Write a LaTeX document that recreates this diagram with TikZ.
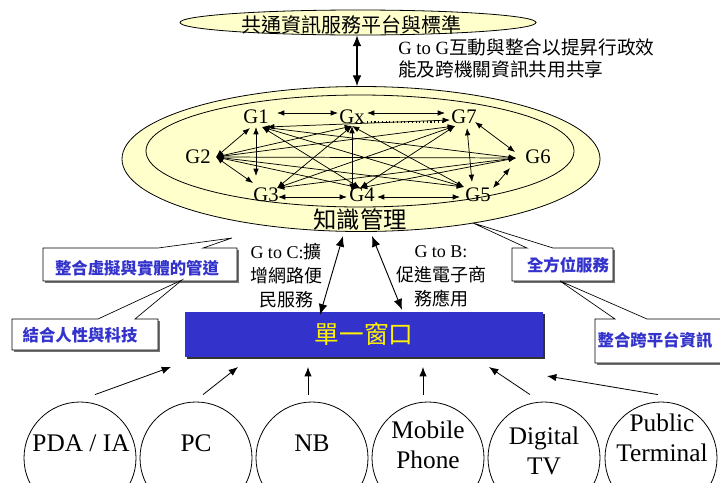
\documentclass[tikz,border=0pt]{standalone}
\usepackage{fontspec}
\setmainfont{Liberation Serif}
\newfontfamily\cjk{Noto Sans CJK TC}
\usetikzlibrary{arrows.meta,shapes.geometric}
\definecolor{ylw}{HTML}{FFFFCC}
\definecolor{bbox}{HTML}{3333CC}
\definecolor{btxt}{HTML}{3333CC}
\begin{document}
\begin{tikzpicture}[x=0.75pt,y=-0.75pt,
  garr/.style={{Latex[length=5.5pt,width=4.2pt]}-{Latex[length=5.5pt,width=4.2pt]}, line width=0.55pt},
  bigarr/.style={{Latex[length=8pt,width=6.5pt]}-{Latex[length=8pt,width=6.5pt]}, line width=0.8pt},
  devarr/.style={-{Latex[length=7pt,width=5.5pt]}, line width=0.6pt},
  glab/.style={font=\fontsize{15.5}{15.5}\selectfont, inner sep=0pt},
  ell/.style={ellipse, draw, fill=ylw, line width=0.6pt, inner sep=0pt},
  devc/.style={circle, draw, line width=0.6pt, minimum size=84pt, inner sep=0pt},
  devt/.style={align=center, inner sep=0pt, font=\fontsize{19}{22.5}\selectfont},
  callt/.style={inner sep=0pt, text=btxt, font={\cjk\bfseries\fontsize{12.3}{12.3}\selectfont}},
  callbox/.style={draw, fill=white, line width=0.5pt},
  shad/.style={fill=black!55},
  cjkt/.style={inner sep=0pt, align=center, font={\fontsize{13.5}{18}\selectfont}}
]
\useasboundingbox (0,0) rectangle (720,482);

% top ellipse
\node[ell, minimum width=267pt, minimum height=18.75pt] (top) at (358,22.5) {};
\node[inner sep=0pt, font={\cjk\fontsize{15}{15}\selectfont}] (toptxt) at (351,25) {共通資訊服務平台與標準};

% G to G text
\node[anchor=base west, inner sep=0pt, font=\fontsize{14}{14}\selectfont] (gg1) at (398,54) {G to G{\cjk 互動與整合以提昇行政效}};
\node[anchor=base west, inner sep=0pt, font={\cjk\fontsize{14}{14}\selectfont}] (gg2) at (398,76) {能及跨機關資訊共用共享};

% big ellipses
\node[ell, minimum width=358.5pt, minimum height=108.75pt] (outer) at (361,159) {};
\node[ell, minimum width=321pt, minimum height=84pt] (mid) at (360,151) {};
\node[inner sep=0pt, font={\cjk\fontsize{17.5}{17.5}\selectfont}] (km) at (360,220) {知識管理};

\draw[bigarr] (top.south -| 357,0) -- (outer.north -| 357,0);

% G nodes
\node[glab] (G1) at (256,117) {G1};
\node[glab] (Gx) at (352,117) {Gx};
\node[glab] (G7) at (464,117) {G7};
\node[glab] (G2) at (198,157) {G2};
\node[glab] (G6) at (538,157) {G6};
\node[glab] (G3) at (266,195) {G3};
\node[glab] (G4) at (362,195) {G4};
\node[glab] (G5) at (478,195) {G5};

\coordinate (h1) at ([shift={(6,10)}]G1.center);
\coordinate (hx) at ([shift={(0,9)}]Gx.center);
\coordinate (h7) at ([shift={(-9,9)}]G7.center);
\coordinate (h2) at ([shift={(18,0)}]G2.center);
\coordinate (h6) at ([shift={(-22,1)}]G6.center);
\coordinate (h3) at ([shift={(11,-7)}]G3.center);
\coordinate (h4) at ([shift={(-2,-7)}]G4.center);
\coordinate (h5) at ([shift={(-14,-8)}]G5.center);

\foreach \a/\b in {h2/hx,h2/h7,h2/h6,h2/h5,h2/h4,h1/h4,h1/h5,h1/h6,hx/h3,hx/h5,h7/h3,h7/h4,h6/h3,h6/h4}
  \draw[garr] (\a) -- (\b);

\draw[garr] ([shift={(21,-4)}]G1.center) -- ([shift={(-14,-4)}]Gx.center);
\draw[garr] ([shift={(15,-4)}]Gx.center) -- ([shift={(-19,-4)}]G7.center);
\draw[dotted, line width=0.8pt] ([shift={(15,5)}]Gx.center) -- ([shift={(-19,5)}]G7.center);
\draw[garr] ([shift={(11,10)}]G1.center) -- ([shift={(-14,3)}]G7.center);
\draw[garr] ([shift={(0,10)}]G1.center) -- ([shift={(-10,-19)}]G3.center);
\draw[garr] ([shift={(-6,11)}]G1.center) -- (h2);
\draw[garr] (h2) -- ([shift={(-13,-12)}]G3.center);
\draw[garr] (hx) -- ([shift={(-10,-4)}]G4.center);
\draw[garr] ([shift={(11,5)}]G7.center) -- ([shift={(-23,-5)}]G6.center);
\draw[garr] ([shift={(3,11)}]G7.center) -- ([shift={(-6,-13)}]G5.center);
\draw[garr] ([shift={(-28,11)}]G6.center) -- ([shift={(15,-7)}]G5.center);
\draw[garr] ([shift={(12,2)}]G3.center) -- ([shift={(-15,2)}]G4.center);
\draw[garr] ([shift={(15,2)}]G4.center) -- ([shift={(-18,2)}]G5.center);

% window box
\fill[black!80] (187,314) rectangle (545,359);
\node[fill=bbox, minimum width=268.5pt, minimum height=33.75pt, inner sep=0pt, text=yellow, font={\cjk\fontsize{18.5}{18.5}\selectfont}] (win) at (364,334.5) {單一窗口};

% G to C / G to B
\node[cjkt] (gtc) at (286,276) {G to C:{\cjk 擴}\\{\cjk 增網路便}\\{\cjk 民服務}};
\node[cjkt] (gtb) at (441,276) {G to B:\\{\cjk 促進電子商}\\{\cjk 務應用}};
\coordinate (gcs) at (343,236);
\coordinate (gbs) at (372,236);
\draw[bigarr, line width=0.7pt] (gcs) -- ([shift={(-44,3)}]win.north);
\draw[bigarr, line width=0.7pt] (gbs) -- ([shift={(38,-2)}]win.north);

% callouts
\fill[shad] (45,250) rectangle (239,283);
\draw[callbox] (43,248) -- (158,248) -- (232,238) -- (203,248) -- (237,248) -- (237,281) -- (43,281) -- cycle;
\node[callt] (c1t) at (137,268) {整合虛擬與實體的管道};

\fill[shad] (14,321) rectangle (160,352);
\draw[callbox] (12,319) -- (98,319) -- (182,280) -- (135,319) -- (158,319) -- (158,350) -- (12,350) -- cycle;
\node[callt] (c2t) at (80,335) {結合人性與科技};

\fill[shad] (514,250) rectangle (615,283);
\draw[callbox] (512,248) -- (527,248) -- (473,223) -- (553,248) -- (613,248) -- (613,281) -- (512,281) -- cycle;
\node[callt] (c3t) at (568,265) {全方位服務};

\fill[shad] (597,321) rectangle (730,365);
\draw[callbox] (595,319) -- (615,319) -- (560,281) -- (647,319) -- (728,319) -- (728,363) -- (595,363) -- cycle;
\node[callt] (c4t) at (655,340) {整合跨平台資訊};

% devices
\node[devc] (d1) at (80,458) {};
\node[devc] (d2) at (196,458) {};
\node[devc] (d3) at (312,458) {};
\node[devc] (d4) at (428,458) {};
\node[devc] (d5) at (544,458) {};
\node[devc] (d6) at (661,458) {};
\node[devt] (t1) at (81,443) {PDA / IA};
\node[devt] (t2) at (196,443) {PC};
\node[devt] (t3) at (312,443) {NB};
\node[devt] (t4) at (428,445) {Mobile\\Phone};
\node[devt] (t5) at (544,451) {Digital\\TV};
\node[devt] (t6) at (662,438) {Public\\Terminal};

\coordinate (e1) at (171,367);
\coordinate (e2) at (238,367);
\coordinate (e3) at (308,367);
\coordinate (e4) at (423,367);
\coordinate (e5) at (489,367);
\coordinate (e6) at (547,376);
\draw[devarr] ([shift={(15,-7)}]d1.north) -- (e1);
\draw[devarr] ([shift={(7,-7)}]d2.north) -- (e2);
\draw[devarr] ([shift={(-4,-7)}]d3.north) -- (e3);
\draw[devarr] ([shift={(-5,-7)}]d4.north) -- (e4);
\draw[devarr] ([shift={(-14,-7)}]d5.north) -- (e5);
\draw[devarr] ([shift={(-3,-7)}]d6.north) -- (e6);
\end{tikzpicture}
\end{document}
